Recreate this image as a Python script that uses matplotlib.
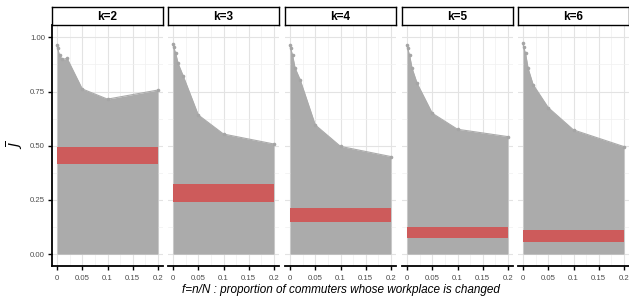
import numpy as np
import matplotlib
matplotlib.use('Agg')
from matplotlib import pyplot as plt

plt.rcParams['font.family'] = ['Liberation Sans', 'DejaVu Sans']

# fraction of commuters whose workplace is changed
f_vals = [0, 0.001, 0.005, 0.01, 0.02, 0.05, 0.1, 0.2]
k_labels = ['k=2', 'k=3', 'k=4', 'k=5', 'k=6']

J_k2 = [0.965, 0.950, 0.918, 0.898, 0.903, 0.762, 0.715, 0.757]
J_k3 = [0.970, 0.955, 0.929, 0.880, 0.823, 0.642, 0.554, 0.508]
J_k4 = [0.964, 0.950, 0.918, 0.858, 0.805, 0.596, 0.497, 0.450]
J_k5 = [0.965, 0.950, 0.918, 0.857, 0.788, 0.650, 0.576, 0.542]
J_k6 = [0.974, 0.955, 0.926, 0.857, 0.782, 0.676, 0.573, 0.496]
J_all = [J_k2, J_k3, J_k4, J_k5, J_k6]

# red reference band (low, high) per k
band_lo = [0.414, 0.242, 0.149, 0.075, 0.058]
band_hi = [0.492, 0.324, 0.213, 0.126, 0.109]

xticks = [0, 0.05, 0.1, 0.15, 0.2]
xtick_labels = ['0', '0.05', '0.1', '0.15', '0.2']
yticks = [0, 0.25, 0.5, 0.75, 1.0]
ytick_labels = ['0.00', '0.25', '0.50', '0.75', '1.00']

W, H = 629, 298
fig = plt.figure(figsize=(W/100, H/100), dpi=100)

panel_left = [52, 168, 285, 402, 518]
panel_w = 111
panel_top, panel_bot = 25, 265.5
strip_top = 7

grey = '#ABABAB'
red = '#CD5B5B'
tick_col = '#4D4D4D'

for ii in range(5):
	x0 = panel_left[ii]
	ax = fig.add_axes([x0/W, (H - panel_bot)/H, panel_w/W, (panel_bot - panel_top)/H])
	ax.set_xlim(-0.01, 0.21)
	ax.set_ylim(-0.0525, 1.057)

	# grid
	for gx in np.arange(0, 0.21, 0.025):
		major = abs(gx/0.05 - round(gx/0.05)) < 1e-6
		ax.axvline(gx, color='#E3E3E3' if major else '#F0F0F0', lw=0.8 if major else 0.5, zorder=0)
	for gy in np.arange(0, 1.01, 0.125):
		major = abs(gy/0.25 - round(gy/0.25)) < 1e-6
		ax.axhline(gy, color='#E3E3E3' if major else '#F0F0F0', lw=0.8 if major else 0.5, zorder=0)

	ax.fill_between(f_vals, 0, J_all[ii], color=grey, lw=0, zorder=2)
	ax.plot(f_vals, J_all[ii], color=grey, lw=0.8, zorder=3)
	ax.plot(f_vals, J_all[ii], 'o', color='#A5A5A5', ms=2.6, mew=0, zorder=4)
	ax.fill_between([0, 0.2], band_lo[ii], band_hi[ii], color=red, lw=0, zorder=5)

	for sp in ['top', 'right']:
		ax.spines[sp].set_visible(False)
	ax.spines['bottom'].set_linewidth(1.3)
	ax.spines['left'].set_linewidth(1.3)
	ax.set_xticks(xticks)
	ax.set_xticklabels(xtick_labels)
	ax.tick_params(axis='x', length=3, width=1.0, labelsize=5.6, labelcolor=tick_col, pad=4)
	if ii == 0:
		ax.set_yticks(yticks)
		ax.set_yticklabels(ytick_labels)
		ax.tick_params(axis='y', length=3, width=1.0, labelsize=5.6, labelcolor=tick_col, pad=2)
		ax.set_ylabel(r'$\overline{J}$', fontsize=10, labelpad=3)
	else:
		ax.spines['left'].set_visible(False)
		ax.set_yticks([])

	# facet strip
	sax = fig.add_axes([x0/W, (H - panel_top)/H, panel_w/W, (panel_top - strip_top)/H])
	sax.set_xticks([])
	sax.set_yticks([])
	for sp in sax.spines.values():
		sp.set_linewidth(1.0)
	sax.text(0.5, 0.45, k_labels[ii], ha='center', va='center', fontsize=8.5, fontweight='bold', transform=sax.transAxes)

fig.text(341/W, 1 - 290/H, 'f=n/N : proportion of commuters whose workplace is changed',
	ha='center', va='center', fontsize=8.5, style='italic')

fig.savefig('out.png', dpi=100)
